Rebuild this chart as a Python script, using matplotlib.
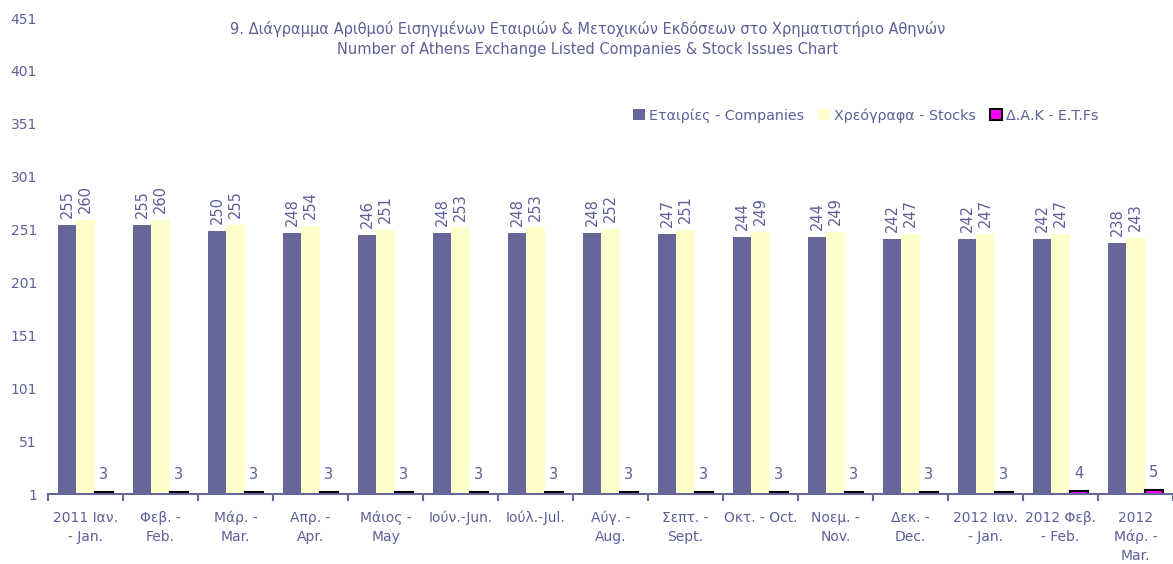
import numpy as np
import matplotlib.pyplot as plt

# --- dados ---
meses = ["2011 Ιαν.\n- Jan.", "Φεβ. -\nFeb.", "Μάρ. -\nMar.", "Απρ. -\nApr.",
         "Μάιος -\nMay", "Ιούν.-Jun.", "Ιούλ.-Jul.", "Αύγ. -\nAug.",
         "Σεπτ. -\nSept.", "Οκτ. - Oct.", "Νοεμ. -\nNov.", "Δεκ. -\nDec.",
         "2012 Ιαν.\n- Jan.", "2012 Φεβ.\n- Feb.", "2012\nΜάρ. -\nMar."]
etairies = [255, 255, 250, 248, 246, 248, 248, 248, 247, 244, 244, 242, 242, 242, 238]
xreografa = [260, 260, 255, 254, 251, 253, 253, 252, 251, 249, 249, 247, 247, 247, 243]
dak = [3, 3, 3, 3, 3, 3, 3, 3, 3, 3, 3, 3, 3, 4, 5]
yticks = [1, 51, 101, 151, 201, 251, 301, 351, 401, 451]

COR_TEXTO = "#5f5f99"

plt.rcParams['font.family'] = ['DejaVu Sans']

fig = plt.figure(figsize=(11.73, 5.64), dpi=100)
ax = fig.add_axes([0.041, 0.124, 0.959, 0.844])

x = np.arange(len(meses))
w = 0.245
b1 = ax.bar(x - w, etairies, w, color="#666699", label="Εταιρίες - Companies")
b2 = ax.bar(x, xreografa, w, color="#FFFFCC", label="Χρεόγραφα - Stocks")
b3 = ax.bar(x + w, dak, w * 0.95, color="#FF00FF", edgecolor="black", linewidth=1.5,
            label="Δ.Α.Κ - E.T.Fs")

for xi, v in zip(x - w, etairies):
    ax.annotate(str(v), (xi, v), textcoords="offset points", xytext=(0, 5),
                ha='center', va='bottom', rotation=90, fontsize=10.5, color=COR_TEXTO)
for xi, v in zip(x, xreografa):
    ax.annotate(str(v), (xi, v), textcoords="offset points", xytext=(0, 5),
                ha='center', va='bottom', rotation=90, fontsize=10.5, color=COR_TEXTO)
for xi, v in zip(x + w, dak):
    ax.annotate(str(v), (xi, v), textcoords="offset points", xytext=(0, 7),
                ha='center', va='bottom', fontsize=10.5, color=COR_TEXTO)

ax.set_xlim(-0.5, len(meses) - 0.5)
ax.set_ylim(1, 451)
ax.set_yticks(yticks)
ax.tick_params(axis='y', length=0, labelsize=10, labelcolor=COR_TEXTO, pad=8)

ax.set_xticks(x)
ax.set_xticklabels(meses, fontsize=10, color=COR_TEXTO, linespacing=1.45)
ax.set_xticks(np.arange(len(meses) + 1) - 0.5, minor=True)
ax.tick_params(axis='x', which='major', length=0, pad=12)
ax.tick_params(axis='x', which='minor', length=5, width=1.5, color="#666699")

for s in ['top', 'right', 'left']:
    ax.spines[s].set_visible(False)
ax.spines['bottom'].set_color("#666699")
ax.spines['bottom'].set_linewidth(1.5)

fig.text(0.501, 0.948, "9. Διάγραμμα Αριθμού Εισηγμένων Εταιριών & Μετοχικών Εκδόσεων στο Χρηματιστήριο Αθηνών",
         ha='center', va='center', fontsize=10.5, color=COR_TEXTO)
fig.text(0.501, 0.912, "Number of Athens Exchange Listed Companies & Stock Issues Chart",
         ha='center', va='center', fontsize=10.5, color=COR_TEXTO)

leg = ax.legend(loc='center', bbox_to_anchor=(0.727, 0.795), ncol=3, frameon=False,
                fontsize=10.3, handlelength=0.8, handleheight=0.8, handletextpad=0.3,
                columnspacing=1.0)
for t in leg.get_texts():
    t.set_color(COR_TEXTO)

fig.savefig("out.png", dpi=100)
